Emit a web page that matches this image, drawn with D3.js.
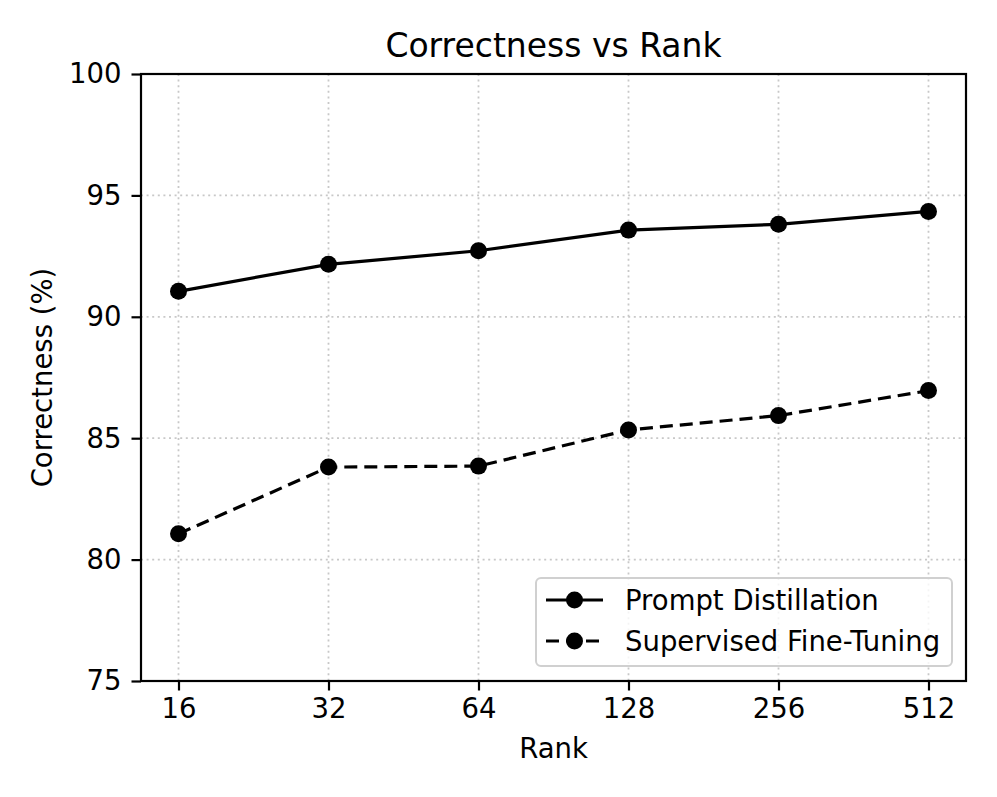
<!DOCTYPE html>
<html>
<head>
<meta charset="utf-8">
<script src="https://cdn.jsdelivr.net/npm/d3@7"></script>
<style>
  body { margin: 0; background: #fff; }
  svg text { font-family: "DejaVu Sans", sans-serif; fill: #000; }
</style>
</head>
<body>
<div id="viz"></div>
<script>
const ranks = ["16", "32", "64", "128", "256", "512"];
const promptDistillation = [91.05, 92.16, 92.72, 93.57, 93.81, 94.34];
const supervisedFineTuning = [81.06, 83.81, 83.85, 85.34, 85.93, 86.96];
const yTicks = [75, 80, 85, 90, 95, 100];

const series = [
  { name: "Prompt Distillation", values: promptDistillation, dash: null },
  { name: "Supervised Fine-Tuning", values: supervisedFineTuning, dash: "13,7" }
];

const W = 997, H = 797;
const margin = { top: 74, right: 31, bottom: 116, left: 141 };
const width = W - margin.left - margin.right;
const height = H - margin.top - margin.bottom;

const svg = d3.select("#viz").append("svg")
  .attr("width", W)
  .attr("height", H);

const g = svg.append("g")
  .attr("transform", `translate(${margin.left},${margin.top})`);

const x = d3.scalePoint()
  .domain(ranks)
  .range([0, width])
  .padding(0.25);

const y = d3.scaleLinear()
  .domain([75, 100])
  .range([height, 0]);

// grid
g.append("g").selectAll("line.gx")
  .data(ranks).enter().append("line")
  .attr("x1", d => x(d)).attr("x2", d => x(d))
  .attr("y1", 0).attr("y2", height)
  .attr("stroke", "#c8c8c8").attr("stroke-width", 1.8)
  .attr("stroke-dasharray", "2,3.6");

g.append("g").selectAll("line.gy")
  .data(yTicks).enter().append("line")
  .attr("x1", 0).attr("x2", width)
  .attr("y1", d => y(d)).attr("y2", d => y(d))
  .attr("stroke", "#c8c8c8").attr("stroke-width", 1.8)
  .attr("stroke-dasharray", "2,3.6");

// axes
const xAxis = g.append("g")
  .attr("transform", `translate(0,${height})`)
  .call(d3.axisBottom(x).tickSize(9.5).tickPadding(8));

const yAxis = g.append("g")
  .call(d3.axisLeft(y).tickValues(yTicks).tickSize(9.5).tickPadding(10));

[xAxis, yAxis].forEach(a => {
  a.select(".domain").remove();
  a.selectAll(".tick line").attr("stroke", "#000").attr("stroke-width", 2.2);
  a.selectAll(".tick text").style("font-size", "27.5px").attr("fill", "#000");
});

// frame
g.append("rect")
  .attr("width", width).attr("height", height)
  .attr("fill", "none").attr("stroke", "#000").attr("stroke-width", 2.2);

// lines
const line = d3.line()
  .x((d, i) => x(ranks[i]))
  .y(d => y(d));

series.forEach(s => {
  g.append("path")
    .datum(s.values)
    .attr("d", line)
    .attr("fill", "none")
    .attr("stroke", "#000")
    .attr("stroke-width", 3.2)
    .attr("stroke-dasharray", s.dash);
  g.selectAll(null)
    .data(s.values).enter().append("circle")
    .attr("cx", (d, i) => x(ranks[i]))
    .attr("cy", d => y(d))
    .attr("r", 8.5)
    .attr("fill", "#000");
});

// title and labels
svg.append("text")
  .attr("x", margin.left + width / 2).attr("y", 57)
  .attr("text-anchor", "middle")
  .style("font-size", "33px")
  .text("Correctness vs Rank");

svg.append("text")
  .attr("x", margin.left + width / 2).attr("y", 758)
  .attr("text-anchor", "middle")
  .style("font-size", "27.5px")
  .text("Rank");

svg.append("text")
  .attr("transform", `translate(52,${margin.top + height / 2}) rotate(-90)`)
  .attr("text-anchor", "middle")
  .style("font-size", "27.5px")
  .text("Correctness (%)");

// legend
const leg = svg.append("g").attr("transform", "translate(536,578)");
leg.append("rect")
  .attr("width", 416).attr("height", 88)
  .attr("rx", 5).attr("ry", 5)
  .attr("fill", "rgba(255,255,255,0.8)")
  .attr("stroke", "#d0d0d0").attr("stroke-width", 2);

series.forEach((s, i) => {
  const cy = 22 + i * 41;
  leg.append("line")
    .attr("x1", 10).attr("x2", 67)
    .attr("y1", cy).attr("y2", cy)
    .attr("stroke", "#000").attr("stroke-width", 3.2)
    .attr("stroke-dasharray", s.dash);
  leg.append("circle")
    .attr("cx", 38.5).attr("cy", cy).attr("r", 8.5).attr("fill", "#000");
  leg.append("text")
    .attr("x", 89).attr("y", cy + 10)
    .style("font-size", "27.5px")
    .text(s.name);
});
</script>
</body>
</html>
